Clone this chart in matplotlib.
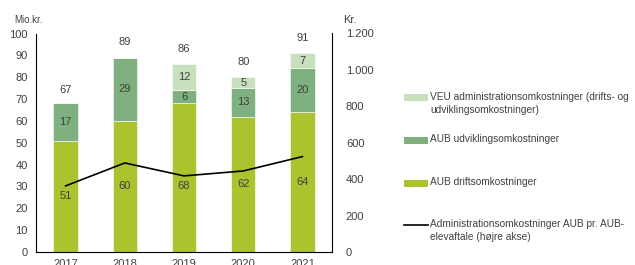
import numpy as np
import matplotlib.pyplot as plt
from matplotlib.patches import Rectangle
from matplotlib.lines import Line2D

plt.rcParams['font.family'] = ['Liberation Sans', 'DejaVu Sans']

years = ['2017', '2018', '2019', '2020', '2021']
aub_drift = [51, 60, 68, 62, 64]
aub_udv = [17, 29, 6, 13, 20]
veu_adm = [0, 0, 12, 5, 7]
totals = [67, 89, 86, 80, 91]
adm_pr_aftale = [363, 489, 418, 445, 524]

legend_labels = ['VEU administrationsomkostninger (drifts- og\nudviklingsomkostninger)',
                 'AUB udviklingsomkostninger',
                 'AUB driftsomkostninger',
                 'Administrationsomkostninger AUB pr. AUB-\nelevaftale (højre akse)']

c_drift = '#acc22f'
c_udv = '#7fb07f'
c_veu = '#c8e0bd'
tc = '#404040'

fig = plt.figure(figsize=[6.35, 2.65], dpi=100)
ax = fig.add_axes([36/635, 13/265, 296/635, 218.5/265])
x = np.arange(len(years))
w = 0.41

b1 = np.array(aub_drift)
b2 = b1 + np.array(aub_udv)
ax.bar(x, aub_drift, w, color=c_drift, edgecolor='white', linewidth=0.4, zorder=2)
ax.bar(x, aub_udv, w, bottom=b1, color=c_udv, edgecolor='white', linewidth=0.4, zorder=2)
ax.bar(x, veu_adm, w, bottom=b2, color=c_veu, edgecolor='white', linewidth=0.4, zorder=2)

# drift labels sit at mid-bar, nudged down where the line crosses
drift_nudge = [0, 0, -4, 0, 0]
for i in range(len(years)):
    ax.text(x[i], aub_drift[i] / 2 + drift_nudge[i], str(aub_drift[i]),
            ha='center', va='center', fontsize=8, color=tc, zorder=5)
    ax.text(x[i], b1[i] + aub_udv[i] / 2, str(aub_udv[i]), ha='center', va='center', fontsize=8, color=tc, zorder=5)
    if veu_adm[i] > 0:
        ax.text(x[i], b2[i] + veu_adm[i] / 2, str(veu_adm[i]), ha='center', va='center', fontsize=8, color=tc, zorder=5)
    ax.text(x[i], totals[i] + 7, str(totals[i]), ha='center', va='center', fontsize=8, color=tc)

ax.set_ylim(0, 100)
ax.set_yticks(np.arange(0, 101, 10))
ax.set_xlim(-0.5, 4.5)
ax.set_xticks(x)
ax.set_xticklabels(years)
ax.tick_params(axis='y', length=0, pad=6, labelsize=8, labelcolor=tc)
ax.tick_params(axis='x', length=0, pad=5, labelsize=8, labelcolor=tc)
ax.spines['top'].set_visible(False)
ax.spines['right'].set_visible(False)
ax.spines['left'].set_linewidth(0.8)
ax.spines['bottom'].set_linewidth(0.8)

ax2 = ax.twinx()
ax2.plot(x, adm_pr_aftale, color='black', linewidth=1.2, zorder=4)
ax2.set_ylim(0, 1200)
ax2.set_yticks(np.arange(0, 1201, 200))
ax2.set_yticklabels(['{:,}'.format(v).replace(',', '.') for v in range(0, 1201, 200)])
ax2.tick_params(axis='y', length=0, pad=10, labelsize=8, labelcolor=tc)
ax2.spines['top'].set_visible(False)
ax2.spines['left'].set_visible(False)
ax2.spines['bottom'].set_visible(False)
ax2.spines['right'].set_linewidth(0.8)

fig.text(14/635, 1 - 20/265, 'Mio.kr.', fontsize=7, color=tc, va='center')
fig.text(343/635, 1 - 20/265, 'Kr.', fontsize=8, color=tc, va='center')

# legend drawn by hand
leg_y = [97.5, 140, 183, 225]
leg_c = [c_veu, c_udv, c_drift]
for k in range(3):
    fig.patches.append(Rectangle((404/635, 1 - (leg_y[k] + 3.5)/265), 24/635, 7/265,
                                 transform=fig.transFigure, facecolor=leg_c[k], edgecolor='none'))
fig.lines.append(Line2D([404/635, 428/635], [1 - leg_y[3]/265, 1 - leg_y[3]/265],
                        transform=fig.transFigure, color='black', linewidth=1.2))
for k in range(4):
    fig.text(430/635, 1 - (leg_y[k] - 6)/265, legend_labels[k], fontsize=7.3, color=tc,
             va='top', ha='left', linespacing=1.4)

fig.savefig('out.png', dpi=100)
